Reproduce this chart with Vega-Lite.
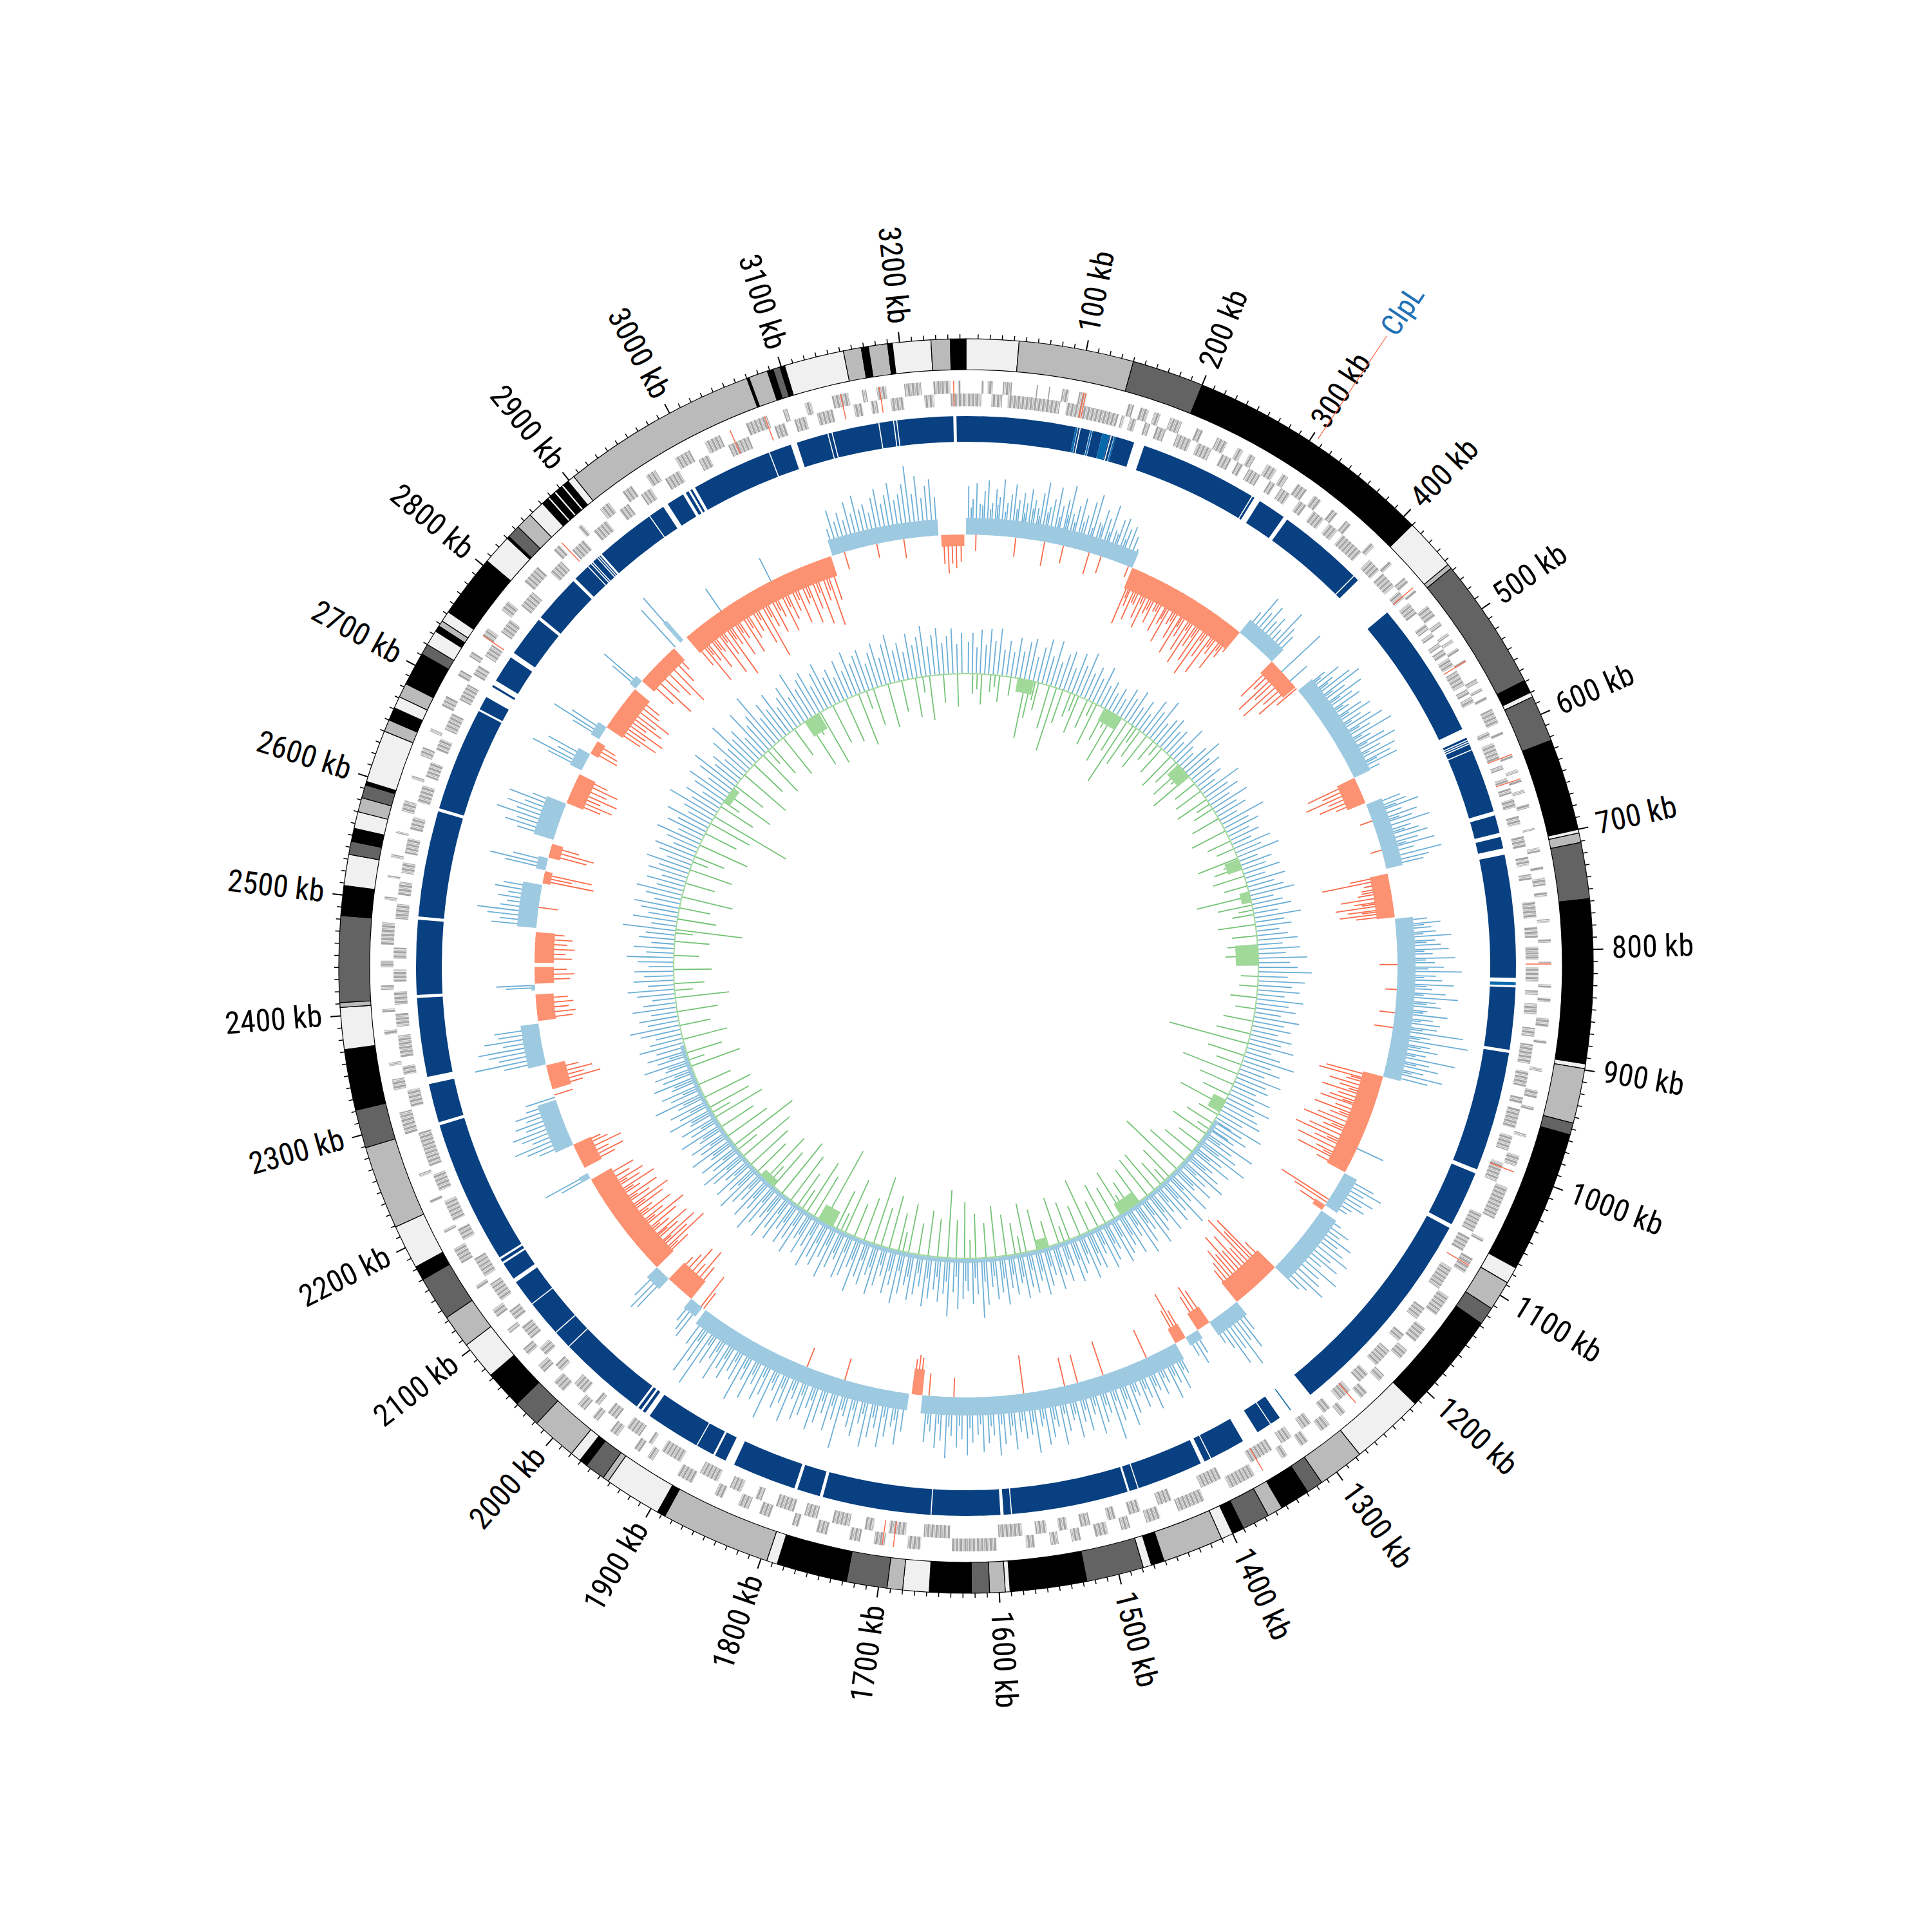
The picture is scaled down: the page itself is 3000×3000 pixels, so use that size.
{"$schema":"https://vega.github.io/schema/vega-lite/v6.json","width":3000,"height":3000,"padding":0,"autosize":{"type":"fit","contains":"padding"},"background":"#ffffff","config":{"view":{"stroke":null}},
"datasets":{
"ideo":[{"s":0,"e":44,"b":"n"},{"s":44,"e":140,"b":"m"},{"s":140,"e":200,"b":"d"},{"s":200,"e":410,"b":"k"},{"s":410,"e":454,"b":"n"},{"s":454,"e":458,"b":"m"},{"s":458,"e":569,"b":"d"},{"s":569,"e":580,"b":"k"},{"s":580,"e":584,"b":"n"},{"s":584,"e":623,"b":"d"},{"s":623,"e":700,"b":"k"},{"s":700,"e":703,"b":"n"},{"s":703,"e":711,"b":"m"},{"s":711,"e":758,"b":"d"},{"s":758,"e":895,"b":"k"},{"s":895,"e":899,"b":"n"},{"s":899,"e":945,"b":"m"},{"s":945,"e":955,"b":"d"},{"s":955,"e":1074,"b":"k"},{"s":1074,"e":1088,"b":"n"},{"s":1088,"e":1113,"b":"m"},{"s":1113,"e":1128,"b":"d"},{"s":1128,"e":1214,"b":"k"},{"s":1214,"e":1276,"b":"n"},{"s":1276,"e":1315,"b":"m"},{"s":1315,"e":1329,"b":"d"},{"s":1329,"e":1354,"b":"k"},{"s":1354,"e":1367,"b":"m"},{"s":1367,"e":1390,"b":"d"},{"s":1390,"e":1400,"b":"k"},{"s":1400,"e":1410,"b":"n"},{"s":1410,"e":1461,"b":"m"},{"s":1461,"e":1472,"b":"k"},{"s":1472,"e":1479,"b":"n"},{"s":1479,"e":1527,"b":"d"},{"s":1527,"e":1591,"b":"k"},{"s":1591,"e":1595,"b":"n"},{"s":1595,"e":1608,"b":"m"},{"s":1608,"e":1623,"b":"d"},{"s":1623,"e":1658,"b":"k"},{"s":1658,"e":1680,"b":"n"},{"s":1680,"e":1693,"b":"m"},{"s":1693,"e":1727,"b":"d"},{"s":1727,"e":1786,"b":"k"},{"s":1786,"e":1795,"b":"n"},{"s":1795,"e":1887,"b":"m"},{"s":1887,"e":1894,"b":"k"},{"s":1894,"e":1942,"b":"n"},{"s":1942,"e":1947,"b":"m"},{"s":1947,"e":1964,"b":"d"},{"s":1964,"e":1971,"b":"k"},{"s":1971,"e":1980,"b":"n"},{"s":1980,"e":2018,"b":"m"},{"s":2018,"e":2041,"b":"d"},{"s":2041,"e":2073,"b":"k"},{"s":2073,"e":2105,"b":"n"},{"s":2105,"e":2133,"b":"m"},{"s":2133,"e":2170,"b":"d"},{"s":2170,"e":2182,"b":"k"},{"s":2182,"e":2219,"b":"n"},{"s":2219,"e":2289,"b":"m"},{"s":2289,"e":2321,"b":"d"},{"s":2321,"e":2372,"b":"k"},{"s":2372,"e":2407,"b":"n"},{"s":2407,"e":2411,"b":"m"},{"s":2411,"e":2483,"b":"d"},{"s":2483,"e":2508,"b":"k"},{"s":2508,"e":2534,"b":"n"},{"s":2534,"e":2545,"b":"d"},{"s":2545,"e":2556,"b":"k"},{"s":2556,"e":2570,"b":"n"},{"s":2570,"e":2582,"b":"m"},{"s":2582,"e":2593,"b":"d"},{"s":2593,"e":2596,"b":"k"},{"s":2596,"e":2640,"b":"n"},{"s":2640,"e":2650,"b":"m"},{"s":2650,"e":2661,"b":"k"},{"s":2661,"e":2671,"b":"n"},{"s":2671,"e":2683,"b":"m"},{"s":2683,"e":2711,"b":"k"},{"s":2711,"e":2720,"b":"d"},{"s":2720,"e":2733,"b":"n"},{"s":2733,"e":2738,"b":"k"},{"s":2738,"e":2743,"b":"m"},{"s":2743,"e":2752,"b":"n"},{"s":2752,"e":2805,"b":"k"},{"s":2805,"e":2830,"b":"n"},{"s":2830,"e":2832,"b":"k"},{"s":2832,"e":2843,"b":"d"},{"s":2843,"e":2857,"b":"m"},{"s":2857,"e":2871,"b":"n"},{"s":2871,"e":2877,"b":"k"},{"s":2877,"e":2879,"b":"n"},{"s":2879,"e":2884,"b":"k"},{"s":2884,"e":2886,"b":"n"},{"s":2886,"e":2892,"b":"k"},{"s":2892,"e":2894,"b":"n"},{"s":2894,"e":2899,"b":"k"},{"s":2899,"e":2905,"b":"n"},{"s":2905,"e":3070,"b":"m"},{"s":3070,"e":3072,"b":"k"},{"s":3072,"e":3088,"b":"m"},{"s":3088,"e":3093,"b":"k"},{"s":3093,"e":3099,"b":"d"},{"s":3099,"e":3103,"b":"k"},{"s":3103,"e":3153,"b":"n"},{"s":3153,"e":3168,"b":"m"},{"s":3168,"e":3174,"b":"k"},{"s":3174,"e":3190,"b":"m"},{"s":3190,"e":3194,"b":"k"},{"s":3194,"e":3226,"b":"n"},{"s":3226,"e":3242,"b":"m"},{"s":3242,"e":3255,"b":"k"}],
"ring":[{"s":0,"e":104},{"s":104,"e":106,"a":1},{"s":106.5,"e":108},{"s":109,"e":118},{"s":118.5,"e":120,"a":1},{"s":120.5,"e":130},{"s":130,"e":137,"a":1},{"s":137,"e":138},{"s":139,"e":141},{"s":141.5,"e":143,"a":1},{"s":143,"e":161},{"s":171,"e":283},{"s":284,"e":286},{"s":292,"e":319},{"s":323,"e":405},{"s":406,"e":411},{"s":452,"e":583},{"s":592,"e":594},{"s":595,"e":596},{"s":597,"e":598},{"s":599,"e":604},{"s":605,"e":666},{"s":670,"e":687},{"s":691,"e":702},{"s":708,"e":825},{"s":829,"e":832,"a":1},{"s":834,"e":893},{"s":896,"e":1010},{"s":1014,"e":1067},{"s":1071,"e":1277},{"s":1300,"e":1301,"a":1},{"s":1313,"e":1323},{"s":1324,"e":1338},{"s":1354,"e":1388},{"s":1389,"e":1395},{"s":1399,"e":1462},{"s":1463,"e":1471},{"s":1473,"e":1584},{"s":1585,"e":1592},{"s":1595,"e":1660},{"s":1661,"e":1764},{"s":1767,"e":1789},{"s":1792,"e":1853},{"s":1862,"e":1873},{"s":1875,"e":1892},{"s":1893,"e":1945},{"s":1950,"e":1953},{"s":1955,"e":1958},{"s":1960,"e":2045},{"s":2046,"e":2063},{"s":2064,"e":2098},{"s":2099,"e":2124},{"s":2128,"e":2145},{"s":2147,"e":2150},{"s":2152,"e":2289},{"s":2292,"e":2329},{"s":2336,"e":2411},{"s":2414,"e":2485},{"s":2488,"e":2589},{"s":2592,"e":2691},{"s":2693,"e":2706},{"s":2717,"e":2719},{"s":2724,"e":2750},{"s":2755,"e":2794},{"s":2797,"e":2843},{"s":2846,"e":2862},{"s":2863,"e":2866},{"s":2867,"e":2868},{"s":2869,"e":2874},{"s":2875,"e":2876},{"s":2877,"e":2878},{"s":2880,"e":2937},{"s":2938,"e":2953},{"s":2958,"e":2975},{"s":2978,"e":2981},{"s":2983,"e":2985},{"s":2988,"e":3065},{"s":3066,"e":3087},{"s":3093,"e":3123},{"s":3124,"e":3127},{"s":3128,"e":3172},{"s":3173,"e":3186},{"s":3187,"e":3189},{"s":3190,"e":3243},{"s":3246,"e":3255}],
"gout":[{"s":3226,"e":3241},{"s":3248,"e":3250},{"s":14,"e":16},{"s":19,"e":24},{"s":33,"e":41},{"s":63,"e":64},{"s":74,"e":75},{"s":86,"e":92},{"s":101,"e":108},{"s":146,"e":151},{"s":157,"e":165},{"s":170,"e":176},{"s":185,"e":196},{"s":210,"e":216},{"s":230,"e":240},{"s":250,"e":256},{"s":262,"e":268},{"s":280,"e":290},{"s":296,"e":302},{"s":312,"e":322},{"s":330,"e":338},{"s":350,"e":356},{"s":366,"e":372},{"s":395,"e":400},{"s":418,"e":422},{"s":438,"e":444},{"s":452,"e":455},{"s":470,"e":482},{"s":488,"e":492},{"s":500,"e":503},{"s":507,"e":510},{"s":516,"e":519},{"s":528,"e":531},{"s":548,"e":552},{"s":557,"e":560},{"s":566,"e":569},{"s":578,"e":592},{"s":600,"e":603},{"s":622,"e":625},{"s":636,"e":639},{"s":645,"e":648},{"s":655,"e":658},{"s":668,"e":672},{"s":690,"e":692},{"s":708,"e":712},{"s":725,"e":728},{"s":735,"e":742},{"s":748,"e":752},{"s":772,"e":775},{"s":790,"e":793},{"s":810,"e":812},{"s":830,"e":833},{"s":842,"e":846},{"s":860,"e":868},{"s":880,"e":883},{"s":905,"e":908},{"s":925,"e":932},{"s":940,"e":943},{"s":965,"e":968},{"s":985,"e":995},{"s":1015,"e":1045},{"s":1065,"e":1068},{"s":1085,"e":1100},{"s":1125,"e":1145},{"s":1160,"e":1175},{"s":1185,"e":1195},{"s":1215,"e":1222},{"s":1236,"e":1244},{"s":1262,"e":1268},{"s":1280,"e":1290},{"s":1304,"e":1312},{"s":1326,"e":1332},{"s":1360,"e":1385},{"s":1410,"e":1435},{"s":1452,"e":1465},{"s":1480,"e":1488},{"s":1500,"e":1512},{"s":1525,"e":1533},{"s":1545,"e":1552},{"s":1566,"e":1574},{"s":1600,"e":1640},{"s":1668,"e":1680},{"s":1700,"e":1710},{"s":1722,"e":1732},{"s":1752,"e":1762},{"s":1778,"e":1784},{"s":1805,"e":1815},{"s":1825,"e":1835},{"s":1850,"e":1858},{"s":1880,"e":1895},{"s":1920,"e":1926},{"s":1934,"e":1940},{"s":1958,"e":1966},{"s":1980,"e":1986},{"s":1995,"e":2003},{"s":2020,"e":2032},{"s":2044,"e":2052},{"s":2065,"e":2072},{"s":2090,"e":2094},{"s":2108,"e":2116},{"s":2138,"e":2142},{"s":2165,"e":2180},{"s":2196,"e":2199},{"s":2225,"e":2228},{"s":2250,"e":2253},{"s":2290,"e":2310},{"s":2330,"e":2340},{"s":2352,"e":2355},{"s":2380,"e":2384},{"s":2400,"e":2403},{"s":2420,"e":2424},{"s":2440,"e":2446},{"s":2460,"e":2480},{"s":2500,"e":2503},{"s":2520,"e":2522},{"s":2538,"e":2541},{"s":2560,"e":2562},{"s":2580,"e":2590},{"s":2610,"e":2613},{"s":2632,"e":2640},{"s":2655,"e":2658},{"s":2680,"e":2690},{"s":2710,"e":2716},{"s":2730,"e":2735},{"s":2752,"e":2760},{"s":2780,"e":2790},{"s":2812,"e":2830},{"s":2850,"e":2857},{"s":2880,"e":2884},{"s":2905,"e":2915},{"s":2930,"e":2940},{"s":2955,"e":2965},{"s":2985,"e":3000},{"s":3015,"e":3030},{"s":3055,"e":3075},{"s":3090,"e":3094},{"s":3110,"e":3116},{"s":3135,"e":3150},{"s":3162,"e":3166},{"s":3175,"e":3184},{"s":3200,"e":3215}],
"gin":[{"s":3241,"e":3255},{"s":0,"e":14},{"s":23,"e":33},{"s":38,"e":86},{"s":92,"e":106},{"s":106,"e":140},{"s":143,"e":146},{"s":151,"e":157},{"s":165,"e":170},{"s":176,"e":185},{"s":196,"e":210},{"s":216,"e":230},{"s":240,"e":250},{"s":256,"e":262},{"s":268,"e":280},{"s":290,"e":296},{"s":302,"e":312},{"s":322,"e":330},{"s":338,"e":350},{"s":356,"e":366},{"s":372,"e":395},{"s":405,"e":418},{"s":422,"e":438},{"s":444,"e":452},{"s":458,"e":470},{"s":482,"e":488},{"s":492,"e":496},{"s":503,"e":507},{"s":510,"e":516},{"s":519,"e":528},{"s":533,"e":548},{"s":552,"e":557},{"s":560,"e":566},{"s":595,"e":600},{"s":606,"e":622},{"s":628,"e":632},{"s":640,"e":645},{"s":650,"e":655},{"s":660,"e":668},{"s":676,"e":684},{"s":695,"e":705},{"s":714,"e":722},{"s":730,"e":735},{"s":755,"e":770},{"s":778,"e":788},{"s":796,"e":808},{"s":815,"e":828},{"s":836,"e":840},{"s":848,"e":858},{"s":870,"e":878},{"s":885,"e":903},{"s":910,"e":924},{"s":934,"e":940},{"s":945,"e":963},{"s":970,"e":984},{"s":996,"e":1014},{"s":1046,"e":1064},{"s":1070,"e":1084},{"s":1102,"e":1124},{"s":1146,"e":1158},{"s":1176,"e":1184},{"s":1196,"e":1214},{"s":1224,"e":1235},{"s":1246,"e":1260},{"s":1270,"e":1278},{"s":1292,"e":1302},{"s":1314,"e":1325},{"s":1335,"e":1358},{"s":1388,"e":1408},{"s":1437,"e":1450},{"s":1467,"e":1478},{"s":1490,"e":1498},{"s":1514,"e":1523},{"s":1535,"e":1543},{"s":1554,"e":1564},{"s":1576,"e":1598},{"s":1642,"e":1666},{"s":1682,"e":1698},{"s":1712,"e":1720},{"s":1734,"e":1750},{"s":1764,"e":1776},{"s":1786,"e":1803},{"s":1817,"e":1823},{"s":1837,"e":1848},{"s":1860,"e":1878},{"s":1898,"e":1918},{"s":1928,"e":1932},{"s":1942,"e":1956},{"s":1968,"e":1978},{"s":1988,"e":1993},{"s":2005,"e":2018},{"s":2034,"e":2042},{"s":2054,"e":2063},{"s":2074,"e":2088},{"s":2096,"e":2106},{"s":2118,"e":2136},{"s":2144,"e":2163},{"s":2182,"e":2194},{"s":2202,"e":2222},{"s":2232,"e":2248},{"s":2256,"e":2288},{"s":2312,"e":2328},{"s":2342,"e":2350},{"s":2358,"e":2378},{"s":2386,"e":2398},{"s":2406,"e":2418},{"s":2427,"e":2438},{"s":2448,"e":2458},{"s":2484,"e":2498},{"s":2506,"e":2518},{"s":2526,"e":2536},{"s":2544,"e":2558},{"s":2566,"e":2578},{"s":2592,"e":2608},{"s":2616,"e":2630},{"s":2642,"e":2653},{"s":2662,"e":2678},{"s":2692,"e":2708},{"s":2718,"e":2728},{"s":2738,"e":2750},{"s":2764,"e":2778},{"s":2794,"e":2810},{"s":2834,"e":2848},{"s":2862,"e":2876},{"s":2888,"e":2903},{"s":2918,"e":2928},{"s":2942,"e":2953},{"s":2968,"e":2983},{"s":3003,"e":3013},{"s":3033,"e":3053},{"s":3078,"e":3088},{"s":3097,"e":3108},{"s":3118,"e":3133},{"s":3152,"e":3160},{"s":3168,"e":3174},{"s":3186,"e":3198},{"s":3217,"e":3226}],
"gred":[{"p":3244},{"p":105},{"p":107},{"p":450},{"p":530},{"p":622},{"p":645},{"p":812},{"p":1000},{"p":1092},{"p":1250},{"p":1352},{"p":1692},{"p":1702},{"p":2752},{"p":2860},{"p":3040},{"p":3073},{"p":3143},{"p":3178}],
"full":[{"s":0,"e":3255}],
"ticksMinor":[{"p":10},{"p":20},{"p":30},{"p":40},{"p":50},{"p":60},{"p":70},{"p":80},{"p":90},{"p":110},{"p":120},{"p":130},{"p":140},{"p":150},{"p":160},{"p":170},{"p":180},{"p":190},{"p":210},{"p":220},{"p":230},{"p":240},{"p":250},{"p":260},{"p":270},{"p":280},{"p":290},{"p":310},{"p":320},{"p":330},{"p":340},{"p":350},{"p":360},{"p":370},{"p":380},{"p":390},{"p":410},{"p":420},{"p":430},{"p":440},{"p":450},{"p":460},{"p":470},{"p":480},{"p":490},{"p":510},{"p":520},{"p":530},{"p":540},{"p":550},{"p":560},{"p":570},{"p":580},{"p":590},{"p":610},{"p":620},{"p":630},{"p":640},{"p":650},{"p":660},{"p":670},{"p":680},{"p":690},{"p":710},{"p":720},{"p":730},{"p":740},{"p":750},{"p":760},{"p":770},{"p":780},{"p":790},{"p":810},{"p":820},{"p":830},{"p":840},{"p":850},{"p":860},{"p":870},{"p":880},{"p":890},{"p":910},{"p":920},{"p":930},{"p":940},{"p":950},{"p":960},{"p":970},{"p":980},{"p":990},{"p":1010},{"p":1020},{"p":1030},{"p":1040},{"p":1050},{"p":1060},{"p":1070},{"p":1080},{"p":1090},{"p":1110},{"p":1120},{"p":1130},{"p":1140},{"p":1150},{"p":1160},{"p":1170},{"p":1180},{"p":1190},{"p":1210},{"p":1220},{"p":1230},{"p":1240},{"p":1250},{"p":1260},{"p":1270},{"p":1280},{"p":1290},{"p":1310},{"p":1320},{"p":1330},{"p":1340},{"p":1350},{"p":1360},{"p":1370},{"p":1380},{"p":1390},{"p":1410},{"p":1420},{"p":1430},{"p":1440},{"p":1450},{"p":1460},{"p":1470},{"p":1480},{"p":1490},{"p":1510},{"p":1520},{"p":1530},{"p":1540},{"p":1550},{"p":1560},{"p":1570},{"p":1580},{"p":1590},{"p":1610},{"p":1620},{"p":1630},{"p":1640},{"p":1650},{"p":1660},{"p":1670},{"p":1680},{"p":1690},{"p":1710},{"p":1720},{"p":1730},{"p":1740},{"p":1750},{"p":1760},{"p":1770},{"p":1780},{"p":1790},{"p":1810},{"p":1820},{"p":1830},{"p":1840},{"p":1850},{"p":1860},{"p":1870},{"p":1880},{"p":1890},{"p":1910},{"p":1920},{"p":1930},{"p":1940},{"p":1950},{"p":1960},{"p":1970},{"p":1980},{"p":1990},{"p":2010},{"p":2020},{"p":2030},{"p":2040},{"p":2050},{"p":2060},{"p":2070},{"p":2080},{"p":2090},{"p":2110},{"p":2120},{"p":2130},{"p":2140},{"p":2150},{"p":2160},{"p":2170},{"p":2180},{"p":2190},{"p":2210},{"p":2220},{"p":2230},{"p":2240},{"p":2250},{"p":2260},{"p":2270},{"p":2280},{"p":2290},{"p":2310},{"p":2320},{"p":2330},{"p":2340},{"p":2350},{"p":2360},{"p":2370},{"p":2380},{"p":2390},{"p":2410},{"p":2420},{"p":2430},{"p":2440},{"p":2450},{"p":2460},{"p":2470},{"p":2480},{"p":2490},{"p":2510},{"p":2520},{"p":2530},{"p":2540},{"p":2550},{"p":2560},{"p":2570},{"p":2580},{"p":2590},{"p":2610},{"p":2620},{"p":2630},{"p":2640},{"p":2650},{"p":2660},{"p":2670},{"p":2680},{"p":2690},{"p":2710},{"p":2720},{"p":2730},{"p":2740},{"p":2750},{"p":2760},{"p":2770},{"p":2780},{"p":2790},{"p":2810},{"p":2820},{"p":2830},{"p":2840},{"p":2850},{"p":2860},{"p":2870},{"p":2880},{"p":2890},{"p":2910},{"p":2920},{"p":2930},{"p":2940},{"p":2950},{"p":2960},{"p":2970},{"p":2980},{"p":2990},{"p":3010},{"p":3020},{"p":3030},{"p":3040},{"p":3050},{"p":3060},{"p":3070},{"p":3080},{"p":3090},{"p":3110},{"p":3120},{"p":3130},{"p":3140},{"p":3150},{"p":3160},{"p":3170},{"p":3180},{"p":3190},{"p":3210},{"p":3220},{"p":3230},{"p":3240},{"p":3250}],
"major":[{"p":100,"t":"100 kb"},{"p":200,"t":"200 kb"},{"p":300,"t":"300 kb"},{"p":400,"t":"400 kb"},{"p":500,"t":"500 kb"},{"p":600,"t":"600 kb"},{"p":700,"t":"700 kb"},{"p":800,"t":"800 kb"},{"p":900,"t":"900 kb"},{"p":1000,"t":"1000 kb"},{"p":1100,"t":"1100 kb"},{"p":1200,"t":"1200 kb"},{"p":1300,"t":"1300 kb"},{"p":1400,"t":"1400 kb"},{"p":1500,"t":"1500 kb"},{"p":1600,"t":"1600 kb"},{"p":1700,"t":"1700 kb"},{"p":1800,"t":"1800 kb"},{"p":1900,"t":"1900 kb"},{"p":2000,"t":"2000 kb"},{"p":2100,"t":"2100 kb"},{"p":2200,"t":"2200 kb"},{"p":2300,"t":"2300 kb"},{"p":2400,"t":"2400 kb"},{"p":2500,"t":"2500 kb"},{"p":2600,"t":"2600 kb"},{"p":2700,"t":"2700 kb"},{"p":2800,"t":"2800 kb"},{"p":2900,"t":"2900 kb"},{"p":3000,"t":"3000 kb"},{"p":3100,"t":"3100 kb"},{"p":3200,"t":"3200 kb"}],
"gene":[{"p":305,"t":"ClpL"}],
"band":[{"s":3225,"e":3253,"v":-18},{"s":0,"e":205,"v":26},{"s":205,"e":356,"v":-34},{"s":356,"e":408,"v":26},{"s":408,"e":450,"v":-25},{"s":455,"e":580,"v":28},{"s":580,"e":613,"v":-30},{"s":615,"e":696,"v":26},{"s":702,"e":755,"v":-28},{"s":757,"e":948,"v":28},{"s":948,"e":1072,"v":-32},{"s":1073,"e":1118,"v":22},{"s":1118,"e":1125,"v":-18},{"s":1126,"e":1214,"v":28},{"s":1214,"e":1276,"v":-38},{"s":1276,"e":1317,"v":25},{"s":1317,"e":1334,"v":-30},{"s":1334,"e":1351,"v":15},{"s":1351,"e":1365,"v":-25},{"s":1365,"e":1680,"v":28},{"s":1680,"e":1693,"v":-40},{"s":1696,"e":1963,"v":26},{"s":1968,"e":1985,"v":18},{"s":1985,"e":2021,"v":-35},{"s":2021,"e":2041,"v":22},{"s":2041,"e":2173,"v":-36},{"s":2175,"e":2182,"v":15},{"s":2189,"e":2220,"v":-30},{"s":2220,"e":2278,"v":30},{"s":2291,"e":2321,"v":-30},{"s":2322,"e":2372,"v":28},{"s":2375,"e":2407,"v":-28},{"s":2412,"e":2418,"v":6},{"s":2420,"e":2440,"v":-30},{"s":2445,"e":2482,"v":-30},{"s":2487,"e":2539,"v":30},{"s":2541,"e":2556,"v":-12},{"s":2557,"e":2572,"v":15},{"s":2573,"e":2590,"v":-18},{"s":2595,"e":2641,"v":32},{"s":2642,"e":2680,"v":-28},{"s":2685,"e":2707,"v":20},{"s":2708,"e":2725,"v":-14},{"s":2728,"e":2745,"v":15},{"s":2745,"e":2802,"v":-30},{"s":2803,"e":2815,"v":12},{"s":2815,"e":2870,"v":-25},{"s":2880,"e":2885,"v":40},{"s":2890,"e":3090,"v":-32},{"s":3092,"e":3222,"v":25}],
"spike":[{"p":3,"v":75},{"p":8,"v":55},{"p":12,"v":80},{"p":16,"v":48},{"p":21,"v":68},{"p":25,"v":85},{"p":30,"v":50},{"p":34,"v":72},{"p":38,"v":60},{"p":42,"v":88},{"p":47,"v":52},{"p":51,"v":66},{"p":55,"v":82},{"p":60,"v":58},{"p":65,"v":70},{"p":69,"v":55},{"p":73,"v":78},{"p":78,"v":62},{"p":82,"v":50},{"p":86,"v":74},{"p":90,"v":92},{"p":95,"v":55},{"p":99,"v":68},{"p":104,"v":88},{"p":109,"v":60},{"p":114,"v":72},{"p":118,"v":95},{"p":122,"v":52},{"p":127,"v":66},{"p":132,"v":80},{"p":138,"v":55},{"p":143,"v":78},{"p":148,"v":92},{"p":153,"v":50},{"p":158,"v":72},{"p":163,"v":60},{"p":168,"v":84},{"p":173,"v":46},{"p":178,"v":65},{"p":183,"v":70},{"p":188,"v":55},{"p":193,"v":62},{"p":198,"v":48},{"p":203,"v":30},{"p":12,"v":-25},{"p":60,"v":-30},{"p":95,"v":-38},{"p":118,"v":-28},{"p":150,"v":-35},{"p":165,"v":-28},{"p":200,"v":-18},{"p":6,"v":42},{"p":19,"v":46},{"p":28,"v":40},{"p":36,"v":48},{"p":45,"v":38},{"p":58,"v":44},{"p":67,"v":40},{"p":76,"v":48},{"p":84,"v":38},{"p":93,"v":46},{"p":107,"v":42},{"p":116,"v":48},{"p":125,"v":40},{"p":135,"v":44},{"p":146,"v":38},{"p":156,"v":46},{"p":166,"v":40},{"p":176,"v":42},{"p":186,"v":38},
{"p":208,"v":-92},{"p":213,"v":-60},{"p":218,"v":-80},{"p":224,"v":-52},{"p":229,"v":-72},{"p":235,"v":-85},{"p":240,"v":-58},{"p":246,"v":-70},{"p":251,"v":-48},{"p":257,"v":-78},{"p":263,"v":-62},{"p":268,"v":-90},{"p":274,"v":-55},{"p":280,"v":-75},{"p":286,"v":-98},{"p":291,"v":-65},{"p":297,"v":-85},{"p":303,"v":-104},{"p":308,"v":-70},{"p":314,"v":-92},{"p":320,"v":-112},{"p":326,"v":-75},{"p":332,"v":-100},{"p":338,"v":-60},{"p":344,"v":-82},{"p":350,"v":-55},{"p":355,"v":-40},{"p":211,"v":-48},{"p":221,"v":-50},{"p":232,"v":-46},{"p":243,"v":-50},{"p":254,"v":-46},{"p":265,"v":-52},{"p":277,"v":-48},{"p":288,"v":-50},{"p":300,"v":-48},{"p":311,"v":-52},{"p":323,"v":-48},{"p":335,"v":-50},{"p":347,"v":-46},
{"p":360,"v":45},{"p":365,"v":78},{"p":370,"v":55},{"p":375,"v":72},{"p":380,"v":50},{"p":385,"v":62},{"p":390,"v":45},{"p":395,"v":85},{"p":400,"v":60},{"p":405,"v":50},{"p":412,"v":-72},{"p":417,"v":-50},{"p":423,"v":-88},{"p":428,"v":-60},{"p":434,"v":-90},{"p":440,"v":-55},{"p":446,"v":-70},{"p":452,"v":-40},{"p":425,"v":82},{"p":440,"v":35},
{"p":458,"v":50},{"p":463,"v":72},{"p":468,"v":55},{"p":473,"v":82},{"p":478,"v":95},{"p":483,"v":62},{"p":488,"v":88},{"p":493,"v":66},{"p":498,"v":75},{"p":503,"v":50},{"p":508,"v":68},{"p":513,"v":80},{"p":518,"v":58},{"p":523,"v":72},{"p":528,"v":88},{"p":533,"v":62},{"p":538,"v":96},{"p":543,"v":55},{"p":548,"v":75},{"p":553,"v":90},{"p":558,"v":60},{"p":563,"v":82},{"p":568,"v":70},{"p":573,"v":78},{"p":578,"v":45},{"p":460,"v":40},{"p":470,"v":44},{"p":480,"v":42},{"p":490,"v":46},{"p":500,"v":42},{"p":510,"v":44},{"p":520,"v":40},{"p":530,"v":46},{"p":540,"v":42},{"p":550,"v":44},{"p":560,"v":40},{"p":570,"v":46},
{"p":584,"v":-82},{"p":589,"v":-60},{"p":594,"v":-90},{"p":599,"v":-55},{"p":604,"v":-72},{"p":609,"v":-48},{"p":618,"v":55},{"p":623,"v":62},{"p":628,"v":80},{"p":633,"v":50},{"p":638,"v":72},{"p":643,"v":62},{"p":648,"v":88},{"p":653,"v":55},{"p":658,"v":66},{"p":663,"v":78},{"p":668,"v":60},{"p":673,"v":85},{"p":678,"v":50},{"p":684,"v":92},{"p":689,"v":70},{"p":693,"v":60},{"p":636,"v":-20},{"p":673,"v":-18},{"p":704,"v":-60},{"p":708,"v":-105},{"p":713,"v":-40},{"p":718,"v":-45},{"p":724,"v":-52},{"p":729,"v":-80},{"p":734,"v":-60},{"p":739,"v":-90},{"p":744,"v":-72},{"p":749,"v":-85},{"p":753,"v":-60},{"p":626,"v":44},{"p":641,"v":42},{"p":656,"v":44},{"p":671,"v":40},{"p":721,"v":-46},{"p":736,"v":-48},{"p":746,"v":-50},
{"p":760,"v":50},{"p":765,"v":70},{"p":770,"v":55},{"p":775,"v":62},{"p":780,"v":85},{"p":785,"v":60},{"p":790,"v":68},{"p":795,"v":80},{"p":800,"v":55},{"p":805,"v":90},{"p":810,"v":58},{"p":815,"v":72},{"p":820,"v":100},{"p":825,"v":60},{"p":830,"v":70},{"p":835,"v":88},{"p":840,"v":55},{"p":845,"v":76},{"p":850,"v":96},{"p":855,"v":62},{"p":860,"v":70},{"p":865,"v":50},{"p":870,"v":82},{"p":875,"v":60},{"p":880,"v":72},{"p":885,"v":68},{"p":890,"v":110},{"p":895,"v":60},{"p":900,"v":120},{"p":905,"v":62},{"p":910,"v":75},{"p":915,"v":58},{"p":920,"v":105},{"p":925,"v":66},{"p":930,"v":82},{"p":935,"v":60},{"p":940,"v":92},{"p":945,"v":70},{"p":812,"v":-28},{"p":842,"v":-18},{"p":870,"v":-24},{"p":888,"v":-30},{"p":767,"v":44},{"p":777,"v":42},{"p":787,"v":46},{"p":797,"v":42},{"p":807,"v":44},{"p":817,"v":48},{"p":827,"v":42},{"p":837,"v":46},{"p":847,"v":42},{"p":857,"v":48},{"p":867,"v":44},{"p":877,"v":42},{"p":887,"v":46},{"p":897,"v":44},{"p":907,"v":48},{"p":917,"v":42},{"p":927,"v":46},{"p":937,"v":42},
{"p":951,"v":-90},{"p":956,"v":-100},{"p":961,"v":-55},{"p":966,"v":-80},{"p":971,"v":-62},{"p":977,"v":-88},{"p":982,"v":-60},{"p":987,"v":-72},{"p":992,"v":-85},{"p":998,"v":-58},{"p":1003,"v":-90},{"p":1009,"v":-62},{"p":1015,"v":-80},{"p":1021,"v":-100},{"p":1027,"v":-65},{"p":1033,"v":-85},{"p":1039,"v":-105},{"p":1045,"v":-70},{"p":1051,"v":-95},{"p":1057,"v":-60},{"p":1063,"v":-88},{"p":1069,"v":-52},{"p":1040,"v":45},{"p":958,"v":-48},{"p":974,"v":-46},{"p":990,"v":-50},{"p":1006,"v":-48},{"p":1024,"v":-52},{"p":1042,"v":-50},{"p":1060,"v":-46},{"p":1078,"v":55},{"p":1083,"v":72},{"p":1088,"v":45},{"p":1093,"v":65},{"p":1098,"v":50},{"p":1103,"v":58},{"p":1108,"v":40},{"p":1113,"v":35},
{"p":1110,"v":-87},{"p":1114,"v":-60},{"p":1120,"v":-45},{"p":1130,"v":40},{"p":1136,"v":60},{"p":1141,"v":48},{"p":1146,"v":75},{"p":1151,"v":55},{"p":1156,"v":70},{"p":1162,"v":85},{"p":1168,"v":60},{"p":1173,"v":78},{"p":1178,"v":52},{"p":1184,"v":90},{"p":1190,"v":62},{"p":1196,"v":70},{"p":1202,"v":85},{"p":1208,"v":60},{"p":1213,"v":50},{"p":1218,"v":-60},{"p":1224,"v":-115},{"p":1228,"v":-95},{"p":1233,"v":-125},{"p":1238,"v":-70},{"p":1243,"v":-100},{"p":1248,"v":-75},{"p":1253,"v":-108},{"p":1258,"v":-78},{"p":1263,"v":-90},{"p":1268,"v":-70},{"p":1273,"v":-60},{"p":1280,"v":50},{"p":1285,"v":78},{"p":1290,"v":60},{"p":1295,"v":100},{"p":1300,"v":65},{"p":1305,"v":88},{"p":1310,"v":55},{"p":1315,"v":40},{"p":1320,"v":-62},{"p":1325,"v":-72},{"p":1330,"v":-58},{"p":1338,"v":38},{"p":1343,"v":52},{"p":1348,"v":35},{"p":1353,"v":-50},{"p":1357,"v":-82},{"p":1361,"v":-55},
{"p":1368,"v":50},{"p":1374,"v":72},{"p":1380,"v":58},{"p":1386,"v":80},{"p":1392,"v":50},{"p":1398,"v":65},{"p":1404,"v":55},{"p":1410,"v":82},{"p":1416,"v":60},{"p":1422,"v":72},{"p":1428,"v":50},{"p":1434,"v":75},{"p":1440,"v":92},{"p":1446,"v":62},{"p":1452,"v":78},{"p":1458,"v":105},{"p":1464,"v":60},{"p":1470,"v":72},{"p":1476,"v":88},{"p":1482,"v":55},{"p":1488,"v":78},{"p":1494,"v":62},{"p":1500,"v":85},{"p":1506,"v":55},{"p":1512,"v":70},{"p":1518,"v":90},{"p":1524,"v":60},{"p":1530,"v":75},{"p":1536,"v":85},{"p":1542,"v":55},{"p":1548,"v":95},{"p":1554,"v":65},{"p":1560,"v":70},{"p":1566,"v":58},{"p":1572,"v":85},{"p":1578,"v":62},{"p":1584,"v":75},{"p":1590,"v":92},{"p":1596,"v":60},{"p":1602,"v":72},{"p":1608,"v":85},{"p":1614,"v":58},{"p":1620,"v":70},{"p":1626,"v":90},{"p":1632,"v":65},{"p":1638,"v":78},{"p":1644,"v":60},{"p":1650,"v":95},{"p":1656,"v":68},{"p":1662,"v":80},{"p":1668,"v":55},{"p":1674,"v":72},{"p":1371,"v":42},{"p":1383,"v":44},{"p":1395,"v":40},{"p":1407,"v":46},{"p":1419,"v":44},{"p":1431,"v":42},{"p":1443,"v":48},{"p":1455,"v":44},{"p":1467,"v":46},{"p":1479,"v":42},{"p":1491,"v":44},{"p":1503,"v":46},{"p":1515,"v":42},{"p":1527,"v":48},{"p":1539,"v":44},{"p":1551,"v":46},{"p":1563,"v":42},{"p":1575,"v":48},{"p":1587,"v":44},{"p":1599,"v":46},{"p":1611,"v":42},{"p":1623,"v":48},{"p":1635,"v":44},{"p":1647,"v":46},{"p":1659,"v":42},{"p":1671,"v":44},{"p":1404,"v":-48},{"p":1460,"v":-55},{"p":1492,"v":-45},{"p":1508,"v":-45},{"p":1558,"v":-60},{"p":1642,"v":-30},{"p":1672,"v":-35},{"p":1683,"v":-58},{"p":1687,"v":-62},{"p":1691,"v":-55},
{"p":1700,"v":60},{"p":1706,"v":82},{"p":1712,"v":55},{"p":1718,"v":72},{"p":1724,"v":90},{"p":1730,"v":62},{"p":1736,"v":78},{"p":1742,"v":95},{"p":1748,"v":60},{"p":1754,"v":82},{"p":1760,"v":70},{"p":1766,"v":55},{"p":1772,"v":108},{"p":1778,"v":65},{"p":1784,"v":85},{"p":1790,"v":60},{"p":1796,"v":78},{"p":1802,"v":92},{"p":1808,"v":60},{"p":1814,"v":75},{"p":1820,"v":85},{"p":1826,"v":55},{"p":1832,"v":95},{"p":1838,"v":68},{"p":1844,"v":80},{"p":1850,"v":55},{"p":1856,"v":105},{"p":1862,"v":70},{"p":1868,"v":82},{"p":1874,"v":60},{"p":1880,"v":88},{"p":1886,"v":62},{"p":1892,"v":100},{"p":1898,"v":70},{"p":1904,"v":60},{"p":1910,"v":78},{"p":1916,"v":65},{"p":1922,"v":90},{"p":1928,"v":58},{"p":1934,"v":72},{"p":1940,"v":115},{"p":1946,"v":80},{"p":1952,"v":105},{"p":1958,"v":60},{"p":1709,"v":44},{"p":1721,"v":42},{"p":1733,"v":46},{"p":1745,"v":44},{"p":1757,"v":42},{"p":1769,"v":46},{"p":1781,"v":44},{"p":1793,"v":42},{"p":1805,"v":46},{"p":1817,"v":44},{"p":1829,"v":42},{"p":1841,"v":46},{"p":1853,"v":44},{"p":1865,"v":42},{"p":1877,"v":46},{"p":1889,"v":44},{"p":1901,"v":42},{"p":1913,"v":46},{"p":1925,"v":44},{"p":1937,"v":42},{"p":1949,"v":46},{"p":1775,"v":-35},{"p":1823,"v":-32},{"p":1966,"v":-30},{"p":1970,"v":-58},{"p":1972,"v":60},{"p":1977,"v":52},{"p":1982,"v":40},
{"p":1988,"v":-60},{"p":1994,"v":-85},{"p":2000,"v":-55},{"p":2006,"v":-80},{"p":2012,"v":-62},{"p":2018,"v":-50},{"p":2025,"v":65},{"p":2030,"v":72},{"p":2036,"v":55},{"p":2044,"v":-70},{"p":2050,"v":-110},{"p":2055,"v":-80},{"p":2060,"v":-100},{"p":2066,"v":-72},{"p":2071,"v":-95},{"p":2077,"v":-65},{"p":2083,"v":-85},{"p":2089,"v":-105},{"p":2095,"v":-70},{"p":2101,"v":-90},{"p":2107,"v":-60},{"p":2113,"v":-85},{"p":2119,"v":-100},{"p":2125,"v":-70},{"p":2131,"v":-88},{"p":2137,"v":-62},{"p":2143,"v":-92},{"p":2149,"v":-70},{"p":2155,"v":-80},{"p":2161,"v":-60},{"p":2168,"v":-72},{"p":2047,"v":-52},{"p":2058,"v":-50},{"p":2069,"v":-54},{"p":2080,"v":-50},{"p":2092,"v":-52},{"p":2104,"v":-50},{"p":2116,"v":-54},{"p":2128,"v":-50},{"p":2140,"v":-52},{"p":2152,"v":-50},{"p":2176,"v":50},{"p":2180,"v":75},{"p":2192,"v":-55},{"p":2197,"v":-72},{"p":2202,"v":-50},{"p":2208,"v":-75},{"p":2214,"v":-55},{"p":2218,"v":-45},
{"p":2224,"v":55},{"p":2229,"v":72},{"p":2234,"v":90},{"p":2239,"v":58},{"p":2244,"v":72},{"p":2249,"v":85},{"p":2254,"v":60},{"p":2259,"v":75},{"p":2264,"v":55},{"p":2269,"v":70},{"p":2274,"v":50},{"p":2281,"v":48},{"p":2284,"v":-30},{"p":2294,"v":-50},{"p":2299,"v":-80},{"p":2304,"v":-55},{"p":2309,"v":-70},{"p":2315,"v":-50},{"p":2326,"v":65},{"p":2331,"v":110},{"p":2336,"v":70},{"p":2341,"v":85},{"p":2346,"v":100},{"p":2351,"v":60},{"p":2356,"v":88},{"p":2361,"v":65},{"p":2366,"v":70},{"p":2378,"v":-55},{"p":2384,"v":-60},{"p":2390,"v":-50},{"p":2396,"v":-58},{"p":2402,"v":-50},{"p":2415,"v":45},{"p":2418,"v":60},{"p":2425,"v":-55},{"p":2431,"v":-62},{"p":2437,"v":-50},{"p":2450,"v":-58},{"p":2456,"v":-48},{"p":2462,"v":-62},{"p":2468,"v":-50},{"p":2474,"v":-58},{"p":2480,"v":-45},
{"p":2490,"v":70},{"p":2495,"v":58},{"p":2500,"v":78},{"p":2505,"v":95},{"p":2510,"v":60},{"p":2515,"v":50},{"p":2520,"v":65},{"p":2525,"v":50},{"p":2530,"v":72},{"p":2535,"v":60},{"p":2512,"v":-30},{"p":2544,"v":-80},{"p":2548,"v":-45},{"p":2552,"v":-75},{"p":2560,"v":65},{"p":2564,"v":90},{"p":2569,"v":55},{"p":2576,"v":-60},{"p":2581,"v":-70},{"p":2586,"v":-45},{"p":2598,"v":60},{"p":2603,"v":82},{"p":2608,"v":65},{"p":2613,"v":100},{"p":2618,"v":70},{"p":2623,"v":88},{"p":2628,"v":62},{"p":2633,"v":90},{"p":2638,"v":55},{"p":2645,"v":-55},{"p":2650,"v":-72},{"p":2655,"v":-50},{"p":2660,"v":-75},{"p":2666,"v":-55},{"p":2672,"v":-70},{"p":2677,"v":-50},{"p":2688,"v":60},{"p":2692,"v":90},{"p":2697,"v":50},{"p":2702,"v":70},{"p":2711,"v":-45},{"p":2716,"v":-42},{"p":2721,"v":-35},{"p":2731,"v":50},{"p":2735,"v":88},{"p":2740,"v":60},
{"p":2748,"v":-60},{"p":2753,"v":-85},{"p":2758,"v":-62},{"p":2763,"v":-90},{"p":2768,"v":-55},{"p":2773,"v":-80},{"p":2778,"v":-65},{"p":2784,"v":-85},{"p":2790,"v":-60},{"p":2796,"v":-55},{"p":2806,"v":50},{"p":2810,"v":72},{"p":2820,"v":-60},{"p":2828,"v":-88},{"p":2836,"v":-55},{"p":2844,"v":-70},{"p":2852,"v":-90},{"p":2860,"v":-58},{"p":2866,"v":-40},{"p":2882,"v":90},{"p":2872,"v":78},
{"p":2893,"v":-60},{"p":2899,"v":-95},{"p":2905,"v":-62},{"p":2911,"v":-80},{"p":2917,"v":-55},{"p":2923,"v":-100},{"p":2929,"v":-70},{"p":2935,"v":-112},{"p":2941,"v":-62},{"p":2947,"v":-85},{"p":2953,"v":-60},{"p":2960,"v":-90},{"p":2967,"v":-70},{"p":2974,"v":-62},{"p":2981,"v":-88},{"p":2988,"v":-115},{"p":2995,"v":-68},{"p":3002,"v":-82},{"p":3009,"v":-60},{"p":3016,"v":-88},{"p":3023,"v":-72},{"p":3030,"v":-62},{"p":3037,"v":-85},{"p":3044,"v":-58},{"p":3051,"v":-92},{"p":3058,"v":-72},{"p":3065,"v":-100},{"p":3072,"v":-65},{"p":3079,"v":-108},{"p":3086,"v":-70},{"p":2902,"v":-48},{"p":2914,"v":-50},{"p":2926,"v":-46},{"p":2938,"v":-50},{"p":2950,"v":-48},{"p":2964,"v":-50},{"p":2978,"v":-46},{"p":2992,"v":-50},{"p":3006,"v":-48},{"p":3020,"v":-50},{"p":3034,"v":-46},{"p":3048,"v":-50},{"p":3062,"v":-48},{"p":3076,"v":-50},{"p":3012,"v":40},{"p":2942,"v":42},
{"p":3095,"v":42},{"p":3100,"v":70},{"p":3105,"v":50},{"p":3110,"v":62},{"p":3115,"v":48},{"p":3120,"v":75},{"p":3125,"v":55},{"p":3130,"v":82},{"p":3135,"v":58},{"p":3140,"v":65},{"p":3145,"v":50},{"p":3150,"v":72},{"p":3155,"v":85},{"p":3160,"v":60},{"p":3165,"v":72},{"p":3170,"v":90},{"p":3175,"v":62},{"p":3180,"v":70},{"p":3185,"v":85},{"p":3190,"v":112},{"p":3195,"v":68},{"p":3200,"v":95},{"p":3205,"v":60},{"p":3210,"v":78},{"p":3215,"v":88},{"p":3220,"v":60},{"p":3107,"v":-28},{"p":3147,"v":-22},{"p":3180,"v":-30},{"p":3228,"v":-45},{"p":3233,"v":-60},{"p":3238,"v":-45},{"p":3243,"v":-52},{"p":3249,"v":-42}],
"iband":[{"s":1100,"e":2300,"v":6},{"s":0,"e":3255,"v":-2},{"s":92,"e":122,"v":-22},{"s":255,"e":290,"v":-22},{"s":420,"e":450,"v":-24},{"s":620,"e":640,"v":-24},{"s":680,"e":700,"v":-16},{"s":775,"e":812,"v":-36},{"s":1060,"e":1085,"v":-22},{"s":1300,"e":1340,"v":-20},{"s":1478,"e":1500,"v":-16},{"s":1872,"e":1902,"v":-26},{"s":2000,"e":2030,"v":-12},{"s":2952,"e":2982,"v":-28},{"s":2750,"e":2780,"v":-12}],
"ispike":[{"p":4,"v":48},{"p":11,"v":62},{"p":18,"v":40},{"p":25,"v":68},{"p":33,"v":45},{"p":40,"v":70},{"p":48,"v":52},{"p":56,"v":72},{"p":64,"v":40},{"p":72,"v":55},{"p":80,"v":38},{"p":88,"v":62},{"p":96,"v":42},{"p":104,"v":58},{"p":112,"v":65},{"p":120,"v":38},{"p":128,"v":55},{"p":136,"v":70},{"p":144,"v":45},{"p":152,"v":72},{"p":160,"v":40},{"p":168,"v":55},{"p":176,"v":62},{"p":184,"v":38},{"p":192,"v":65},{"p":200,"v":48},{"p":208,"v":72},{"p":216,"v":42},{"p":224,"v":55},{"p":232,"v":40},{"p":240,"v":62},{"p":248,"v":35},{"p":256,"v":45},{"p":264,"v":30},{"p":272,"v":42},{"p":280,"v":28},{"p":288,"v":50},{"p":296,"v":38},{"p":304,"v":55},{"p":312,"v":32},{"p":320,"v":48},{"p":328,"v":30},{"p":336,"v":60},{"p":344,"v":45},{"p":352,"v":70},{"p":360,"v":35},{"p":368,"v":48},{"p":376,"v":55},{"p":384,"v":38},{"p":392,"v":45},{"p":400,"v":30},{"p":408,"v":62},{"p":416,"v":35},{"p":424,"v":28},{"p":432,"v":48},{"p":440,"v":68},{"p":448,"v":42},{"p":456,"v":55},{"p":464,"v":32},{"p":472,"v":45},{"p":480,"v":28},{"p":488,"v":68},{"p":496,"v":42},{"p":504,"v":55},{"p":512,"v":35},{"p":520,"v":62},{"p":528,"v":38},{"p":536,"v":50},{"p":544,"v":30},{"p":552,"v":72},{"p":560,"v":42},{"p":568,"v":55},{"p":576,"v":35},{"p":584,"v":48},{"p":592,"v":32},{"p":600,"v":60},{"p":608,"v":42},{"p":616,"v":68},{"p":624,"v":30},{"p":632,"v":50},{"p":640,"v":38},{"p":648,"v":58},{"p":656,"v":32},{"p":664,"v":62},{"p":672,"v":42},{"p":680,"v":55},{"p":688,"v":70},{"p":696,"v":35},{"p":704,"v":48},{"p":712,"v":60},{"p":720,"v":38},{"p":728,"v":72},{"p":736,"v":45},{"p":744,"v":55},{"p":752,"v":35},{"p":760,"v":48},{"p":768,"v":62},{"p":776,"v":38},{"p":784,"v":65},{"p":792,"v":42},{"p":800,"v":75},{"p":808,"v":48},{"p":816,"v":60},{"p":824,"v":82},{"p":832,"v":45},{"p":840,"v":72},{"p":848,"v":52},{"p":856,"v":65},{"p":864,"v":42},{"p":872,"v":72},{"p":880,"v":50},{"p":888,"v":62},{"p":896,"v":40},{"p":904,"v":70},{"p":912,"v":48},{"p":920,"v":60},{"p":928,"v":42},{"p":936,"v":65},{"p":944,"v":50},{"p":952,"v":72},{"p":960,"v":38},{"p":968,"v":55},{"p":976,"v":80},{"p":984,"v":45},{"p":992,"v":62},{"p":1000,"v":40},{"p":1008,"v":70},{"p":1016,"v":48},{"p":1024,"v":55},{"p":1032,"v":38},{"p":1040,"v":65},{"p":1048,"v":42},{"p":1056,"v":72},{"p":1064,"v":50},{"p":1072,"v":60},{"p":1080,"v":68},{"p":1088,"v":42},{"p":1096,"v":80},{"p":1104,"v":50},{"p":1112,"v":62},{"p":1120,"v":45},{"p":1128,"v":85},{"p":1136,"v":52},{"p":1144,"v":65},{"p":1152,"v":88},{"p":1160,"v":50},{"p":1168,"v":70},{"p":1176,"v":45},{"p":1184,"v":62},{"p":1192,"v":78},{"p":1200,"v":50},{"p":1208,"v":68},{"p":1216,"v":42},{"p":1224,"v":75},{"p":1232,"v":50},{"p":1240,"v":85},{"p":1248,"v":55},{"p":1256,"v":68},{"p":1264,"v":45},{"p":1272,"v":72},{"p":1280,"v":50},{"p":1288,"v":62},{"p":1296,"v":78},{"p":1304,"v":48},{"p":1312,"v":65},{"p":1320,"v":80},{"p":1328,"v":45},{"p":1336,"v":70},{"p":1344,"v":52},{"p":1352,"v":62},{"p":1360,"v":72},{"p":1368,"v":45},{"p":1376,"v":60},{"p":1384,"v":70},{"p":1392,"v":42},{"p":1400,"v":62},{"p":1408,"v":55},{"p":1416,"v":72},{"p":1424,"v":45},{"p":1432,"v":58},{"p":1440,"v":68},{"p":1448,"v":40},{"p":1456,"v":62},{"p":1464,"v":50},{"p":1472,"v":70},{"p":1480,"v":45},{"p":1488,"v":60},{"p":1496,"v":72},{"p":1504,"v":48},{"p":1512,"v":65},{"p":1520,"v":55},{"p":1528,"v":70},{"p":1536,"v":45},{"p":1544,"v":62},{"p":1552,"v":50},{"p":1560,"v":75},{"p":1568,"v":55},{"p":1576,"v":65},{"p":1584,"v":45},{"p":1592,"v":72},{"p":1600,"v":92},{"p":1608,"v":55},{"p":1616,"v":70},{"p":1624,"v":50},{"p":1632,"v":62},{"p":1640,"v":78},{"p":1648,"v":52},{"p":1656,"v":90},{"p":1664,"v":55},{"p":1672,"v":68},{"p":1680,"v":50},{"p":1688,"v":65},{"p":1696,"v":78},{"p":1704,"v":48},{"p":1712,"v":62},{"p":1720,"v":72},{"p":1728,"v":50},{"p":1736,"v":65},{"p":1744,"v":82},{"p":1752,"v":55},{"p":1760,"v":70},{"p":1768,"v":45},{"p":1776,"v":62},{"p":1784,"v":78},{"p":1792,"v":50},{"p":1800,"v":68},{"p":1808,"v":58},{"p":1816,"v":85},{"p":1824,"v":48},{"p":1832,"v":65},{"p":1840,"v":72},{"p":1848,"v":45},{"p":1856,"v":62},{"p":1864,"v":82},{"p":1872,"v":52},{"p":1880,"v":70},{"p":1888,"v":60},{"p":1896,"v":80},{"p":1904,"v":50},{"p":1912,"v":66},{"p":1920,"v":45},{"p":1928,"v":75},{"p":1936,"v":55},{"p":1944,"v":68},{"p":1952,"v":48},{"p":1960,"v":72},{"p":1968,"v":58},{"p":1976,"v":80},{"p":1984,"v":50},{"p":1992,"v":66},{"p":2000,"v":85},{"p":2008,"v":52},{"p":2016,"v":72},{"p":2024,"v":48},{"p":2032,"v":60},{"p":2040,"v":78},{"p":2048,"v":50},{"p":2056,"v":70},{"p":2064,"v":45},{"p":2072,"v":62},{"p":2080,"v":75},{"p":2088,"v":50},{"p":2096,"v":66},{"p":2104,"v":42},{"p":2112,"v":72},{"p":2120,"v":50},{"p":2128,"v":62},{"p":2136,"v":42},{"p":2144,"v":70},{"p":2152,"v":48},{"p":2160,"v":60},{"p":2168,"v":40},{"p":2176,"v":72},{"p":2184,"v":50},{"p":2192,"v":62},{"p":2200,"v":45},{"p":2208,"v":80},{"p":2216,"v":50},{"p":2224,"v":62},{"p":2232,"v":42},{"p":2240,"v":68},{"p":2248,"v":50},{"p":2256,"v":60},{"p":2264,"v":40},{"p":2272,"v":72},{"p":2280,"v":48},{"p":2288,"v":62},{"p":2296,"v":45},{"p":2304,"v":70},{"p":2312,"v":52},{"p":2320,"v":40},{"p":2328,"v":62},{"p":2336,"v":78},{"p":2344,"v":48},{"p":2352,"v":60},{"p":2360,"v":40},{"p":2368,"v":68},{"p":2376,"v":50},{"p":2384,"v":35},{"p":2392,"v":58},{"p":2400,"v":72},{"p":2408,"v":40},{"p":2416,"v":62},{"p":2424,"v":45},{"p":2432,"v":60},{"p":2440,"v":38},{"p":2448,"v":55},{"p":2456,"v":72},{"p":2464,"v":42},{"p":2472,"v":62},{"p":2480,"v":35},{"p":2488,"v":55},{"p":2496,"v":45},{"p":2504,"v":82},{"p":2512,"v":38},{"p":2520,"v":68},{"p":2528,"v":45},{"p":2536,"v":58},{"p":2544,"v":70},{"p":2552,"v":40},{"p":2560,"v":55},{"p":2568,"v":72},{"p":2576,"v":42},{"p":2584,"v":60},{"p":2592,"v":38},{"p":2600,"v":62},{"p":2608,"v":48},{"p":2616,"v":70},{"p":2624,"v":40},{"p":2632,"v":55},{"p":2640,"v":65},{"p":2648,"v":38},{"p":2656,"v":52},{"p":2664,"v":72},{"p":2672,"v":40},{"p":2680,"v":62},{"p":2688,"v":48},{"p":2696,"v":70},{"p":2704,"v":38},{"p":2712,"v":50},{"p":2720,"v":80},{"p":2728,"v":45},{"p":2736,"v":60},{"p":2744,"v":35},{"p":2752,"v":55},{"p":2760,"v":70},{"p":2768,"v":40},{"p":2776,"v":62},{"p":2784,"v":78},{"p":2792,"v":45},{"p":2800,"v":55},{"p":2808,"v":38},{"p":2816,"v":68},{"p":2824,"v":45},{"p":2832,"v":85},{"p":2840,"v":50},{"p":2848,"v":60},{"p":2856,"v":38},{"p":2864,"v":80},{"p":2872,"v":50},{"p":2880,"v":62},{"p":2888,"v":92},{"p":2896,"v":45},{"p":2904,"v":65},{"p":2912,"v":50},{"p":2920,"v":72},{"p":2928,"v":42},{"p":2936,"v":55},{"p":2944,"v":68},{"p":2952,"v":45},{"p":2960,"v":82},{"p":2968,"v":50},{"p":2976,"v":62},{"p":2984,"v":70},{"p":2992,"v":42},{"p":3000,"v":60},{"p":3008,"v":72},{"p":3016,"v":45},{"p":3024,"v":55},{"p":3032,"v":38},{"p":3040,"v":62},{"p":3048,"v":42},{"p":3056,"v":70},{"p":3064,"v":48},{"p":3072,"v":58},{"p":3080,"v":65},{"p":3088,"v":40},{"p":3096,"v":55},{"p":3104,"v":68},{"p":3112,"v":42},{"p":3120,"v":62},{"p":3128,"v":75},{"p":3136,"v":48},{"p":3144,"v":58},{"p":3152,"v":42},{"p":3160,"v":70},{"p":3168,"v":50},{"p":3176,"v":62},{"p":3184,"v":78},{"p":3192,"v":45},{"p":3200,"v":62},{"p":3208,"v":72},{"p":3216,"v":48},{"p":3224,"v":58},{"p":3232,"v":70},{"p":3240,"v":45},{"p":3248,"v":62},
{"p":1102,"v":30},{"p":1118,"v":34},{"p":1132,"v":28},{"p":1148,"v":36},{"p":1164,"v":30},{"p":1180,"v":34},{"p":1196,"v":28},{"p":1212,"v":36},{"p":1228,"v":30},{"p":1244,"v":34},{"p":1260,"v":28},{"p":1276,"v":36},{"p":1292,"v":30},{"p":1308,"v":34},{"p":1324,"v":28},{"p":1340,"v":36},{"p":1356,"v":30},{"p":1372,"v":34},{"p":1388,"v":28},{"p":1404,"v":36},{"p":1420,"v":30},{"p":1436,"v":34},{"p":1452,"v":28},{"p":1468,"v":36},{"p":1484,"v":30},{"p":1500,"v":34},{"p":1516,"v":28},{"p":1532,"v":36},{"p":1548,"v":30},{"p":1564,"v":34},{"p":1580,"v":28},{"p":1596,"v":36},{"p":1612,"v":30},{"p":1628,"v":34},{"p":1644,"v":28},{"p":1660,"v":36},{"p":1676,"v":30},{"p":1692,"v":34},{"p":1708,"v":28},{"p":1724,"v":36},{"p":1740,"v":30},{"p":1756,"v":34},{"p":1772,"v":28},{"p":1788,"v":36},{"p":1804,"v":30},{"p":1820,"v":34},{"p":1836,"v":28},{"p":1852,"v":36},{"p":1868,"v":30},{"p":1884,"v":34},{"p":1900,"v":28},{"p":1916,"v":36},{"p":1932,"v":30},{"p":1948,"v":34},{"p":1964,"v":28},{"p":1980,"v":36},{"p":1996,"v":30},{"p":2012,"v":34},{"p":2028,"v":28},{"p":2044,"v":36},{"p":2060,"v":30},{"p":2076,"v":34},{"p":2092,"v":28},{"p":2108,"v":36},{"p":2124,"v":30},{"p":2140,"v":34},{"p":2156,"v":28},{"p":2172,"v":36},{"p":2188,"v":30},{"p":2204,"v":34},{"p":2220,"v":28},{"p":2236,"v":36},{"p":2252,"v":30},{"p":2268,"v":34},{"p":2284,"v":28},
{"p":12,"v":-32},{"p":28,"v":-48},{"p":44,"v":-28},{"p":60,"v":-42},{"p":80,"v":-30},{"p":107,"v":-93},{"p":116,"v":-60},{"p":130,"v":-45},{"p":150,"v":-70},{"p":163,"v":-103},{"p":175,"v":-55},{"p":190,"v":-40},{"p":205,"v":-62},{"p":222,"v":-48},{"p":240,"v":-70},{"p":258,"v":-55},{"p":275,"v":-85},{"p":290,"v":-60},{"p":302,"v":-111},{"p":315,"v":-72},{"p":330,"v":-50},{"p":345,"v":-62},{"p":360,"v":-38},{"p":380,"v":-50},{"p":401,"v":-63},{"p":415,"v":-45},{"p":430,"v":-60},{"p":448,"v":-72},{"p":465,"v":-40},{"p":482,"v":-48},{"p":500,"v":-55},{"p":520,"v":-35},{"p":540,"v":-48},{"p":565,"v":-59},{"p":585,"v":-40},{"p":600,"v":-30},{"p":618,"v":-67},{"p":635,"v":-45},{"p":652,"v":-52},{"p":670,"v":-38},{"p":689,"v":-86},{"p":705,"v":-55},{"p":722,"v":-35},{"p":740,"v":-60},{"p":760,"v":-40},{"p":778,"v":-48},{"p":796,"v":-52},{"p":812,"v":-35},{"p":832,"v":-28},{"p":850,"v":-30},{"p":870,"v":-42},{"p":890,"v":-32},{"p":912,"v":-48},{"p":935,"v":-55},{"p":953,"v":-127},{"p":975,"v":-60},{"p":992,"v":-42},{"p":1010,"v":-92},{"p":1030,"v":-58},{"p":1050,"v":-45},{"p":1071,"v":-76},{"p":1090,"v":-35},{"p":1108,"v":-48},{"p":1130,"v":-62},{"p":1150,"v":-40},{"p":1170,"v":-55},{"p":1190,"v":-72},{"p":1211,"v":-108},{"p":1230,"v":-58},{"p":1250,"v":-45},{"p":1265,"v":-72},{"p":1281,"v":-71},{"p":1300,"v":-62},{"p":1318,"v":-48},{"p":1335,"v":-75},{"p":1352,"v":-55},{"p":1370,"v":-68},{"p":1385,"v":-45},{"p":1403,"v":-88},{"p":1420,"v":-50},{"p":1440,"v":-62},{"p":1460,"v":-75},{"p":1480,"v":-42},{"p":1500,"v":-65},{"p":1520,"v":-78},{"p":1540,"v":-50},{"p":1556,"v":-65},{"p":1575,"v":-80},{"p":1592,"v":-55},{"p":1610,"v":-70},{"p":1630,"v":-88},{"p":1645,"v":-60},{"p":1660,"v":-106},{"p":1678,"v":-60},{"p":1695,"v":-72},{"p":1712,"v":-50},{"p":1730,"v":-78},{"p":1748,"v":-60},{"p":1765,"v":-85},{"p":1780,"v":-62},{"p":1794,"v":-109},{"p":1812,"v":-70},{"p":1830,"v":-55},{"p":1848,"v":-90},{"p":1865,"v":-65},{"p":1890,"v":-126},{"p":1910,"v":-72},{"p":1925,"v":-90},{"p":1945,"v":-60},{"p":1960,"v":-85},{"p":1980,"v":-100},{"p":2000,"v":-70},{"p":2018,"v":-88},{"p":2038,"v":-62},{"p":2055,"v":-78},{"p":2075,"v":-95},{"p":2100,"v":-114},{"p":2120,"v":-75},{"p":2140,"v":-60},{"p":2160,"v":-85},{"p":2180,"v":-70},{"p":2200,"v":-80},{"p":2225,"v":-55},{"p":2260,"v":-81},{"p":2285,"v":-58},{"p":2310,"v":-72},{"p":2335,"v":-50},{"p":2360,"v":-65},{"p":2385,"v":-85},{"p":2410,"v":-48},{"p":2435,"v":-60},{"p":2460,"v":-40},{"p":2485,"v":-55},{"p":2506,"v":-105},{"p":2525,"v":-62},{"p":2545,"v":-50},{"p":2565,"v":-82},{"p":2590,"v":-48},{"p":2615,"v":-70},{"p":2640,"v":-50},{"p":2662,"v":-82},{"p":2685,"v":-55},{"p":2705,"v":-70},{"p":2719,"v":-130},{"p":2740,"v":-60},{"p":2765,"v":-80},{"p":2785,"v":-55},{"p":2810,"v":-85},{"p":2835,"v":-62},{"p":2858,"v":-78},{"p":2880,"v":-55},{"p":2905,"v":-72},{"p":2930,"v":-50},{"p":2958,"v":-82},{"p":2985,"v":-90},{"p":3010,"v":-65},{"p":3035,"v":-72},{"p":3060,"v":-85},{"p":3088,"v":-60},{"p":3115,"v":-70},{"p":3140,"v":-50},{"p":3165,"v":-62},{"p":3190,"v":-70},{"p":3215,"v":-45},{"p":3240,"v":-52},{"p":20,"v":-25},{"p":52,"v":-20},{"p":124,"v":-30},{"p":198,"v":-28},{"p":232,"v":-24},{"p":266,"v":-30},{"p":322,"v":-28},{"p":370,"v":-22},{"p":438,"v":-30},{"p":510,"v":-25},{"p":628,"v":-28},{"p":714,"v":-24},{"p":805,"v":-20},{"p":1120,"v":-22},{"p":1240,"v":-25},{"p":1328,"v":-30},{"p":1450,"v":-26},{"p":1530,"v":-28},{"p":1620,"v":-30},{"p":1740,"v":-32},{"p":1856,"v":-30},{"p":1935,"v":-35},{"p":2010,"v":-34},{"p":2090,"v":-38},{"p":2170,"v":-32},{"p":2272,"v":-26},{"p":2398,"v":-30},{"p":2500,"v":-28},{"p":2630,"v":-26},{"p":2750,"v":-30},{"p":2870,"v":-28},{"p":2970,"v":-34},{"p":3075,"v":-30},{"p":3178,"v":-26}]
},
"layer":[
{"data":{"name":"ispike"},"mark":{"type":"arc","strokeWidth":1.8},"encoding":{"theta":{"field":"p","type":"quantitative","scale":{"domain":[0,3255],"range":[0,6.283185]}},"theta2":{"field":"p"},"radius":{"field":"v","type":"quantitative","scale":{"domain":[-300,300],"range":[155,755]}},"radius2":{"datum":0},"stroke":{"condition":{"test":"datum.v>0","value":"#6baed6"},"value":"#74c476"}}},
{"data":{"name":"iband"},"mark":{"type":"arc"},"encoding":{"theta":{"field":"s","type":"quantitative","scale":{"domain":[0,3255],"range":[0,6.283185]}},"theta2":{"field":"e"},"radius":{"field":"v","type":"quantitative","scale":{"domain":[-300,300],"range":[155,755]}},"radius2":{"datum":0},"fill":{"condition":{"test":"datum.v>0","value":"#9ecae1"},"value":"#a1d99b"}}},
{"data":{"name":"spike"},"mark":{"type":"arc","strokeWidth":1.8},"encoding":{"theta":{"field":"p","type":"quantitative","scale":{"domain":[0,3255],"range":[0,6.283185]}},"theta2":{"field":"p"},"radius":{"field":"v","type":"quantitative","scale":{"domain":[-300,300],"range":[370,970]}},"radius2":{"datum":0},"stroke":{"condition":{"test":"datum.v>0","value":"#6baed6"},"value":"#fb6a4a"}}},
{"data":{"name":"band"},"mark":{"type":"arc"},"encoding":{"theta":{"field":"s","type":"quantitative","scale":{"domain":[0,3255],"range":[0,6.283185]}},"theta2":{"field":"e"},"radius":{"field":"v","type":"quantitative","scale":{"domain":[-300,300],"range":[370,970]}},"radius2":{"datum":0},"fill":{"condition":{"test":"datum.v>0","value":"#9ecae1"},"value":"#fc9272"}}},
{"data":{"name":"ring"},"mark":{"type":"arc","outerRadius":854,"innerRadius":814},"encoding":{"theta":{"field":"s","type":"quantitative","scale":{"domain":[0,3255],"range":[0,6.283185]}},"theta2":{"field":"e"},"fill":{"condition":{"test":"datum.a==1","value":"#0868ac"},"value":"#084081"}}},
{"data":{"name":"gout"},"mark":{"type":"arc","outerRadius":909,"innerRadius":889,"fill":"#a3a3a3"},"encoding":{"theta":{"field":"s","type":"quantitative","scale":{"domain":[0,3255],"range":[0,6.283185]}},"theta2":{"field":"e"}}},
{"data":{"name":"gin"},"mark":{"type":"arc","outerRadius":889,"innerRadius":869,"fill":"#a3a3a3"},"encoding":{"theta":{"field":"s","type":"quantitative","scale":{"domain":[0,3255],"range":[0,6.283185]}},"theta2":{"field":"e"}}},
{"data":{"name":"full"},"mark":{"type":"arc","outerRadius":889,"innerRadius":889,"fill":null,"stroke":"#ffffff","strokeWidth":42,"strokeDash":[1.3,5.2],"strokeOpacity":0.75},"encoding":{"theta":{"field":"s","type":"quantitative","scale":{"domain":[0,3255],"range":[0,6.283185]}},"theta2":{"field":"e"}}},
{"data":{"name":"gred"},"mark":{"type":"arc","outerRadius":909,"innerRadius":869,"stroke":"#fb6a4a","strokeWidth":1.5},"encoding":{"theta":{"field":"p","type":"quantitative","scale":{"domain":[0,3255],"range":[0,6.283185]}},"theta2":{"field":"p"}}},
{"data":{"name":"ideo"},"mark":{"type":"arc","outerRadius":974,"innerRadius":926,"stroke":"#000000","strokeWidth":1.2},"encoding":{"theta":{"field":"s","type":"quantitative","scale":{"domain":[0,3255],"range":[0,6.283185]}},"theta2":{"field":"e"},"fill":{"field":"b","type":"nominal","scale":{"domain":["n","m","d","k"],"range":["#f0f0f0","#bababa","#636363","#000000"]},"legend":null}}},
{"data":{"name":"ticksMinor"},"mark":{"type":"arc","outerRadius":981,"innerRadius":974,"stroke":"#000000","strokeWidth":1.5},"encoding":{"theta":{"field":"p","type":"quantitative","scale":{"domain":[0,3255],"range":[0,6.283185]}},"theta2":{"field":"p"}}},
{"data":{"name":"major"},"mark":{"type":"arc","outerRadius":990,"innerRadius":974,"stroke":"#000000","strokeWidth":2},"encoding":{"theta":{"field":"p","type":"quantitative","scale":{"domain":[0,3255],"range":[0,6.283185]}},"theta2":{"field":"p"}}},
{"data":{"name":"major"},"transform":[{"filter":"datum.p<1650"},{"calculate":"datum.p/3255*360-90","as":"ang"}],"mark":{"type":"text","radius":1003,"align":"left","baseline":"middle","font":"Roboto Condensed","fontSize":48,"color":"#000000"},"encoding":{"theta":{"field":"p","type":"quantitative","stack":null,"scale":{"domain":[0,3255],"range":[0,6.283185]}},"angle":{"field":"ang","type":"quantitative","scale":null},"text":{"field":"t"}}},
{"data":{"name":"major"},"transform":[{"filter":"datum.p>=1650"},{"calculate":"datum.p/3255*360+90","as":"ang"}],"mark":{"type":"text","radius":1003,"align":"right","baseline":"middle","font":"Roboto Condensed","fontSize":48,"color":"#000000"},"encoding":{"theta":{"field":"p","type":"quantitative","stack":null,"scale":{"domain":[0,3255],"range":[0,6.283185]}},"angle":{"field":"ang","type":"quantitative","scale":null},"text":{"field":"t"}}},
{"data":{"name":"gene"},"mark":{"type":"arc","outerRadius":1176,"innerRadius":985,"stroke":"#fb6a4a","strokeWidth":1.3},"encoding":{"theta":{"field":"p","type":"quantitative","scale":{"domain":[0,3255],"range":[0,6.283185]}},"theta2":{"field":"p"}}},
{"data":{"name":"gene"},"transform":[{"calculate":"datum.p/3255*360-90","as":"ang"}],"mark":{"type":"text","radius":1182,"align":"left","baseline":"middle","font":"Roboto Condensed","fontSize":46,"color":"#2171b5"},"encoding":{"theta":{"field":"p","type":"quantitative","stack":null,"scale":{"domain":[0,3255],"range":[0,6.283185]}},"angle":{"field":"ang","type":"quantitative","scale":null},"text":{"field":"t"}}}
],
"resolve":{"scale":{"radius":"independent"}}}
